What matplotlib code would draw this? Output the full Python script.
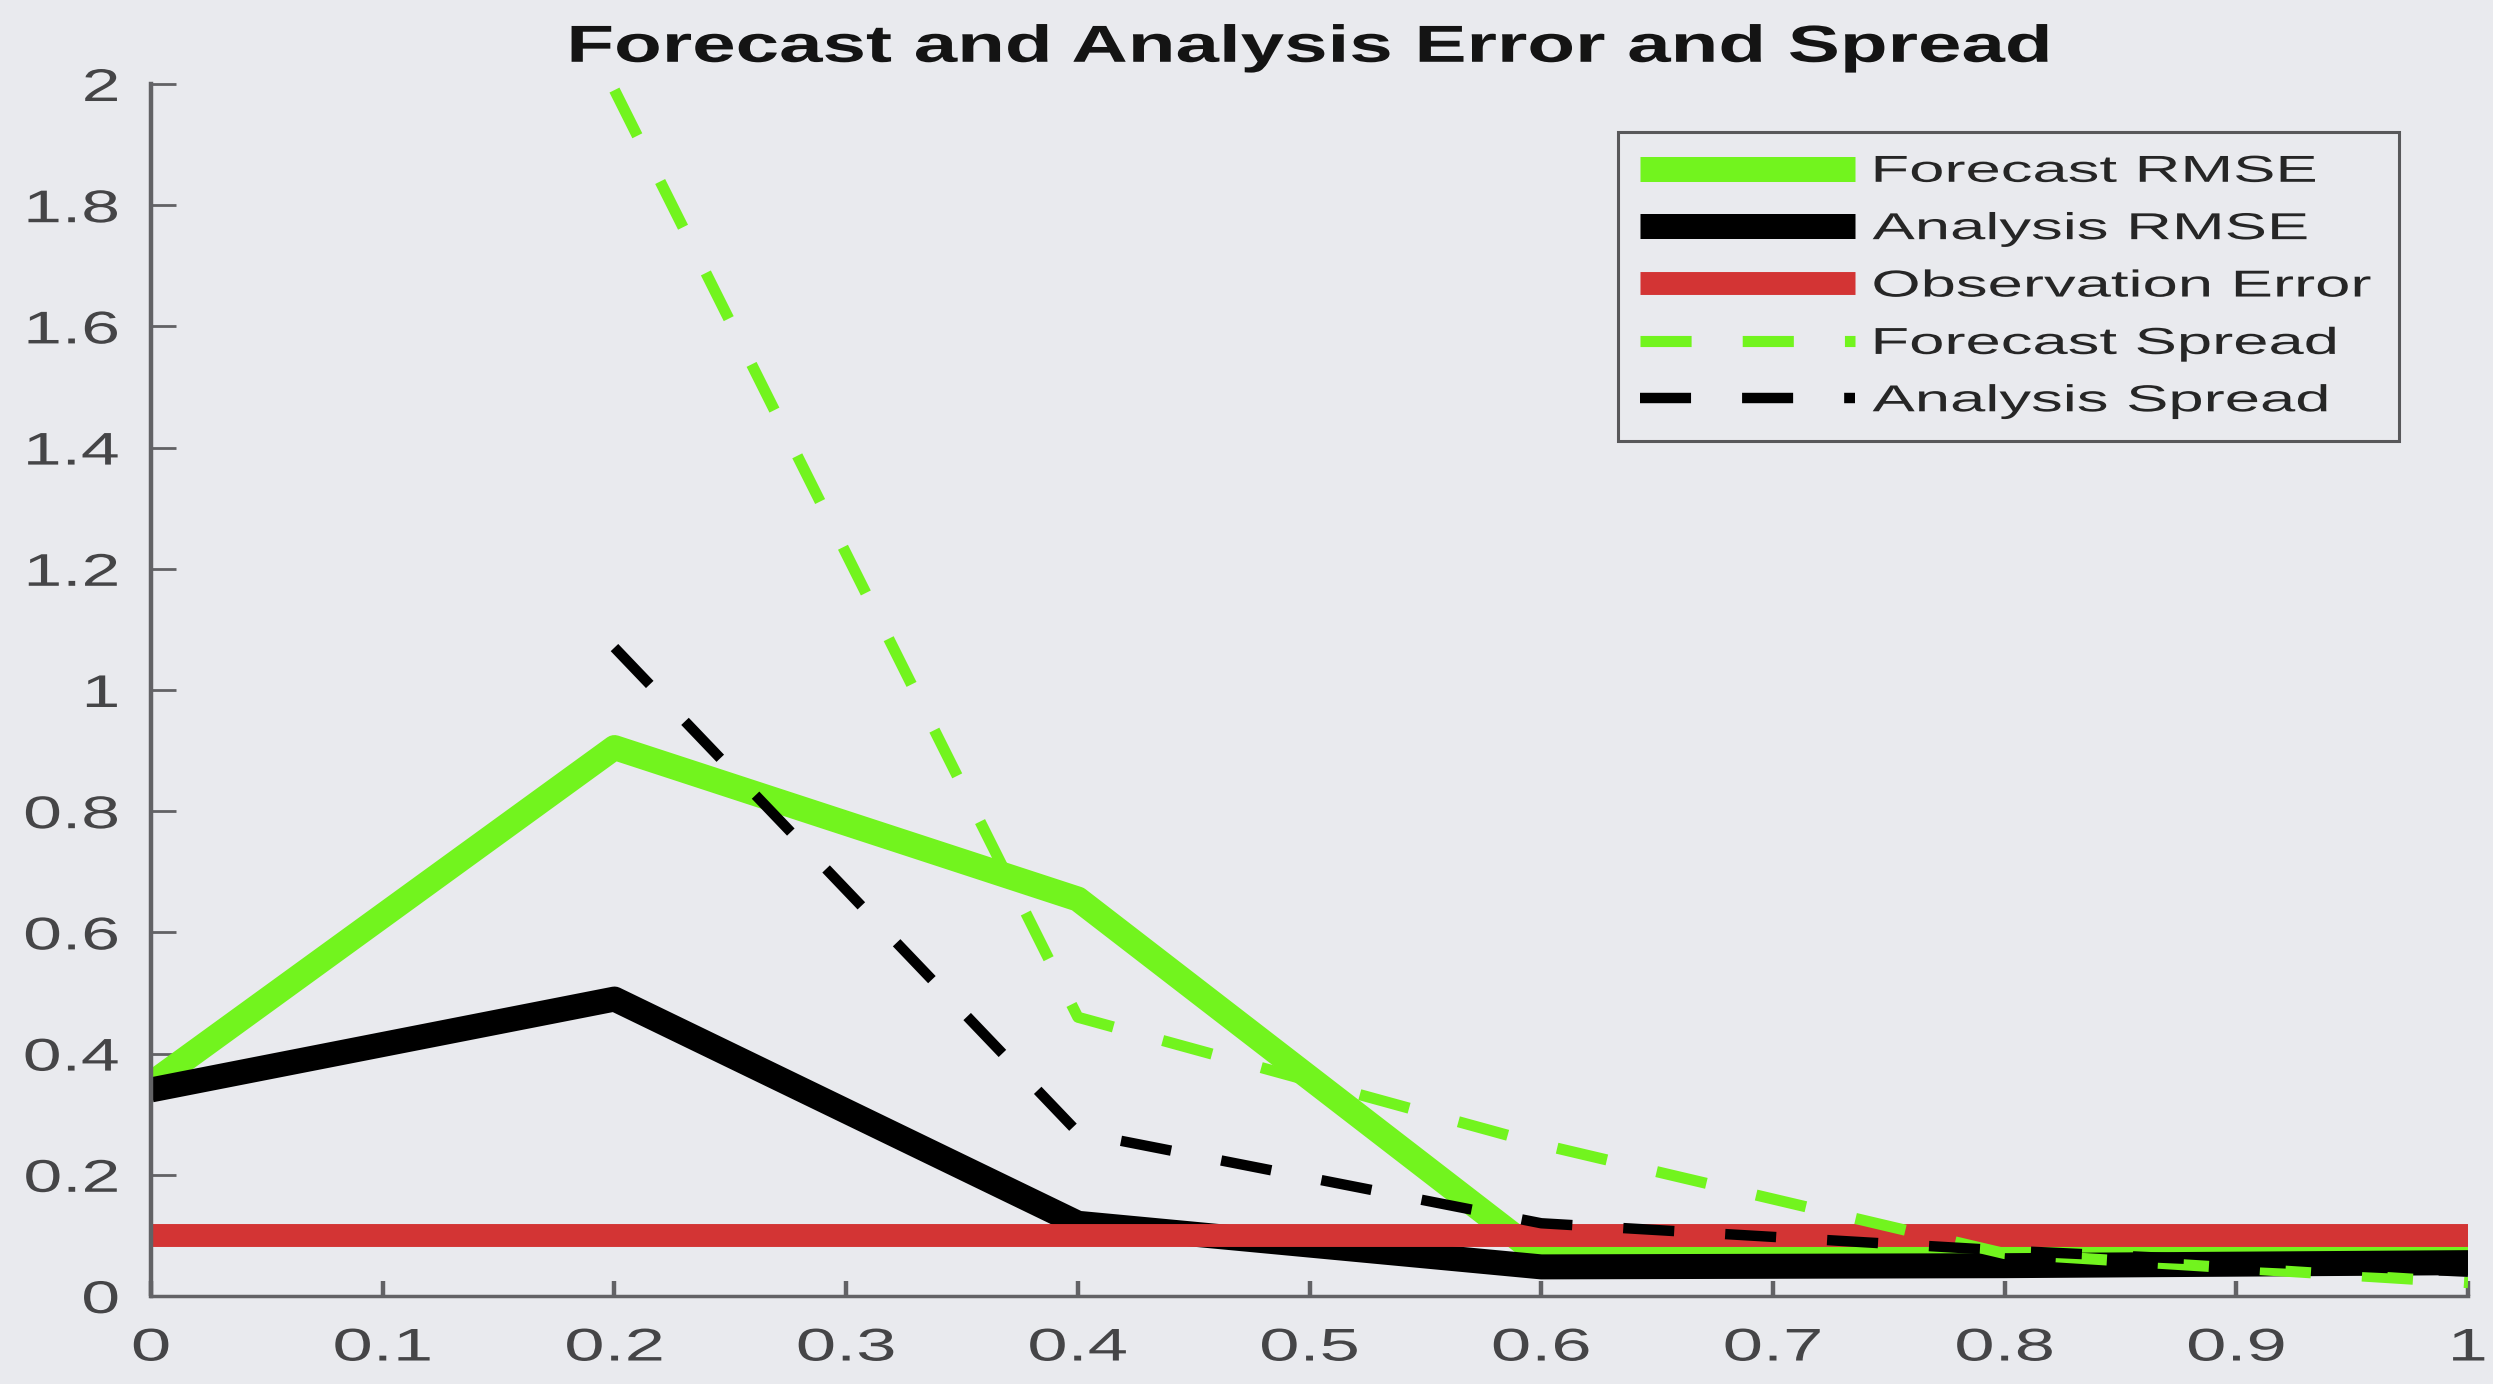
import numpy as np
import matplotlib.pyplot as plt
from matplotlib.patheffects import AbstractPathEffect
from matplotlib.transforms import Affine2D

# x positions of the experiments
x = [0.0, 0.2, 0.4, 0.6, 0.8, 1.0]

# series (nan = not plotted)
forecast_rmse = [0.35, 0.905, 0.655, 0.065, 0.065, 0.07]
analysis_rmse = [0.34, 0.49, 0.12, 0.048, 0.05, 0.055]
obs_error = [0.1, 0.1, 0.1, 0.1, 0.1, 0.1]
forecast_spread = [np.nan, 1.99, 0.46, 0.25, 0.07, 0.022]
analysis_spread = [np.nan, 1.07, 0.27, 0.12, 0.075, 0.04]

xticks = [0, 0.1, 0.2, 0.3, 0.4, 0.5, 0.6, 0.7, 0.8, 0.9, 1]
xticklabels = ["0", "0.1", "0.2", "0.3", "0.4", "0.5", "0.6", "0.7", "0.8", "0.9", "1"]
yticks = [0, 0.2, 0.4, 0.6, 0.8, 1.0, 1.2, 1.4, 1.6, 1.8, 2.0]
yticklabels = ["0", "0.2", "0.4", "0.6", "0.8", "1", "1.2", "1.4", "1.6", "1.8", "2"]

GREEN = "#72f41e"
RED = "#d33434"
BG = "#e9eaee"
AXC = "#626265"


class Widen(AbstractPathEffect):
    """Draw text stretched horizontally (the source image is a wide capture)."""

    def __init__(self, sx, anchor="left"):
        super().__init__()
        self.sx = sx
        self.anchor = anchor

    def draw_path(self, renderer, gc, tpath, affine, rgbFace=None):
        bb = tpath.get_extents(affine)
        x0 = {"left": bb.x0, "center": 0.5 * (bb.x0 + bb.x1), "right": bb.x1}[self.anchor]
        stretch = Affine2D().translate(-x0, 0).scale(self.sx, 1).translate(x0, 0)
        renderer.draw_path(gc, tpath, affine + stretch, rgbFace)


plt.rcParams["font.family"] = ["Liberation Sans", "DejaVu Sans"]

fig = plt.figure(figsize=(24.93, 13.84), dpi=100, facecolor=BG)
ax = fig.add_axes([0.0606, 0.0636, 0.9294, 0.8757], facecolor=BG)

common = dict(solid_joinstyle="round", solid_capstyle="butt",
              dash_capstyle="butt", dash_joinstyle="round")
ax.plot(x, forecast_rmse, color=GREEN, lw=18, label="Forecast RMSE", **common)
ax.plot(x, analysis_rmse, color="black", lw=18, label="Analysis RMSE", **common)
ax.plot(x, obs_error, color=RED, lw=16.5, label="Observation Error", **common)
ax.plot(x, forecast_spread, color=GREEN, lw=8, dashes=(4.6, 4.6),
        label="Forecast Spread", **common)
ax.plot(x, analysis_spread, color="black", lw=7.5, dashes=(4.9, 4.9),
        label="Analysis Spread", **common)

ax.set_xlim(0, 1)
ax.set_ylim(0, 2)
ax.set_xticks(xticks)
xlabs = ax.set_xticklabels(xticklabels)
ax.set_yticks(yticks)
ylabs = ax.set_yticklabels(yticklabels)

for side in ("top", "right"):
    ax.spines[side].set_visible(False)
ax.spines["left"].set_color(AXC)
ax.spines["left"].set_linewidth(3.2)
ax.spines["bottom"].set_color(AXC)
ax.spines["bottom"].set_linewidth(2.5)

ax.tick_params(axis="x", direction="in", length=11, width=3.2, color=AXC,
               labelsize=33, labelcolor="#454547", pad=22)
ax.tick_params(axis="y", direction="in", length=18, width=2, color=AXC,
               labelsize=33, labelcolor="#454547", pad=23)
for t in xlabs:
    t.set_path_effects([Widen(1.58, "center")])
for t in ylabs:
    t.set_path_effects([Widen(1.52, "right")])

title = ax.set_title("Forecast and Analysis Error and Spread", fontsize=37.5,
                     fontweight="bold", color="#141414", pad=16)
title.set_path_effects([Widen(1.5, "center")])

leg = ax.legend(loc="upper left", bbox_to_anchor=(0.6490, 0.5, 0.3133, 0.4046),
                bbox_transform=fig.transFigure, mode="expand", fontsize=27,
                frameon=True, fancybox=False, handlelength=5.73,
                handletextpad=0.48, labelspacing=0.57, borderaxespad=0,
                borderpad=0.58)
leg.get_frame().set_facecolor(BG)
leg.get_frame().set_edgecolor("#58585a")
leg.get_frame().set_linewidth(2.2)
leg.get_frame().set_alpha(1)
for t in leg.get_texts():
    t.set_color("#262626")
    t.set_path_effects([Widen(1.69, "left")])

fig.savefig("out.png", dpi=100, facecolor=BG)
